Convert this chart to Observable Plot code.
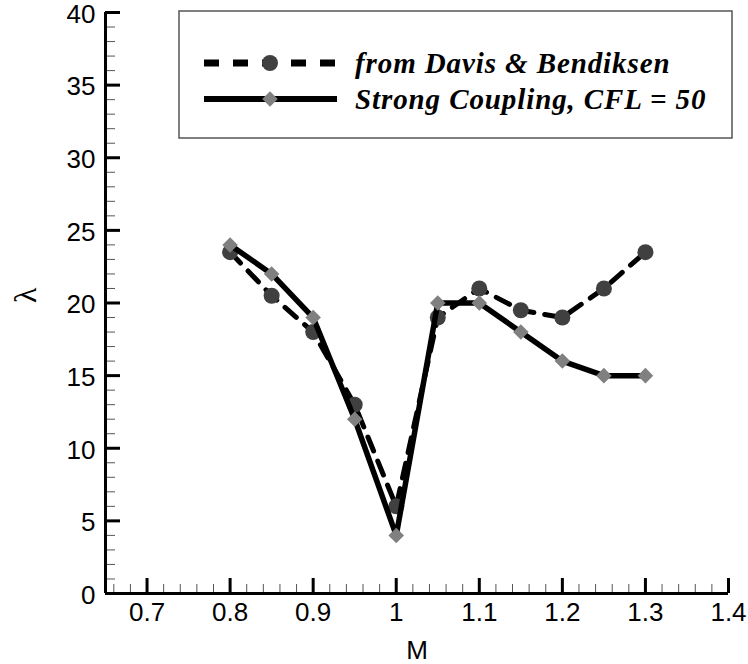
<!DOCTYPE html>
<html>
<head>
<meta charset="utf-8">
<script src="https://cdn.jsdelivr.net/npm/d3@7"></script>
<script src="https://cdn.jsdelivr.net/npm/@observablehq/plot@0.6"></script>
<style>
  html, body { margin: 0; padding: 0; background: #fff; }
  #chart { width: 748px; height: 664px; }
</style>
</head>
<body>
<div id="chart"></div>
<script>
// ---- data ----
const machD = [0.8, 0.85, 0.9, 0.95, 1.0, 1.05, 1.1, 1.15, 1.2, 1.25, 1.3];
const lambdaDavis = [23.5, 20.5, 18, 13, 6, 19, 21, 19.5, 19, 21, 23.5];
const machS = [0.8, 0.85, 0.9, 0.95, 1.0, 1.05, 1.1, 1.15, 1.2, 1.25, 1.3];
const lambdaStrong = [24, 22, 19, 12, 4, 20, 20, 18, 16, 15, 15];
const seriesNames = ["from Davis & Bendiksen", "Strong Coupling, CFL = 50"];
const xTicks = [0.7, 0.8, 0.9, 1, 1.1, 1.2, 1.3, 1.4];
const yTicks = [0, 5, 10, 15, 20, 25, 30, 35, 40];
const xMinor = d3.range(33, 71).map(i => +(i * 0.02).toFixed(2)).filter(v => v >= 0.65 && v <= 1.4);
const yMinor = d3.range(0, 41);
const xLabel = "M";
const yLabel = "λ";

const davis = machD.map((m, i) => ({m, l: lambdaDavis[i]}));
const strong = machS.map((m, i) => ({m, l: lambdaStrong[i]}));

const W = 748, H = 664;
const mL = 105, mR = 20, mT = 12, mB = 71;
const frameH = H - mT - mB, frameW = W - mL - mR;

const chart = Plot.plot({
  width: W,
  height: H,
  marginLeft: mL,
  marginRight: mR,
  marginTop: mT,
  marginBottom: mB,
  style: {background: "#fff", color: "#000", fontFamily: "Liberation Sans, Arial, sans-serif", overflow: "visible"},
  x: {domain: [0.65, 1.4], axis: null},
  y: {domain: [0, 40], axis: null},
  marks: [
    // minor ticks
    Plot.tickX(xMinor, {x: d => d, stroke: "#555", strokeWidth: 1, insetTop: frameH - 9}),
    Plot.tickY(yMinor, {y: d => d, stroke: "#555", strokeWidth: 1, insetRight: frameW - 10}),
    // major ticks
    Plot.tickX(xTicks, {x: d => d, stroke: "#000", strokeWidth: 3, insetTop: frameH - 15}),
    Plot.tickY(yTicks, {y: d => d, stroke: "#000", strokeWidth: 3, insetRight: frameW - 15}),
    // axis lines
    Plot.ruleX([0.65], {stroke: "#000", strokeWidth: 3}),
    Plot.ruleY([0], {stroke: "#000", strokeWidth: 3}),
    // tick labels
    Plot.axisX({ticks: xTicks, tickSize: 0, tickPadding: 9, fontSize: 26, label: null, tickFormat: d => String(d)}),
    Plot.axisY({ticks: yTicks, tickSize: 0, tickPadding: 10, fontSize: 26, label: null, dy: 2, tickFormat: d => String(d)}),
    // axis titles
    Plot.text([xLabel], {frameAnchor: "bottom", lineAnchor: "middle", dy: 57, fontSize: 26, fill: "#000"}),
    Plot.text([yLabel], {frameAnchor: "left", dx: -80, rotate: -90, fontSize: 32, fill: "#000", fontFamily: "Liberation Serif, Times New Roman, serif"}),
    // series
    Plot.line(davis, {x: "m", y: "l", stroke: "#000", strokeWidth: 5, strokeDasharray: "15,11"}),
    Plot.dot(davis, {x: "m", y: "l", r: 8, fill: "#404040", stroke: "none"}),
    Plot.line(strong, {x: "m", y: "l", stroke: "#000", strokeWidth: 5.5}),
    Plot.dot(strong, {x: "m", y: "l", symbol: "diamond2", r: 7, fill: "#808080", stroke: "none"})
  ]
});

// legend
const svg = d3.select(chart);
const lg = svg.append("g").attr("text-anchor", "start");
lg.append("rect").attr("x", 179).attr("y", 11).attr("width", 553).attr("height", 127)
  .attr("fill", "#fff").attr("stroke", "#555").attr("stroke-width", 1.5);
const rows = [63, 99];
// row 1: dashed + circle
lg.append("line").attr("x1", 204).attr("x2", 337).attr("y1", rows[0]).attr("y2", rows[0])
  .attr("stroke", "#000").attr("stroke-width", 7).attr("stroke-dasharray", "15,14");
lg.append("circle").attr("cx", 270).attr("cy", rows[0]).attr("r", 8).attr("fill", "#404040");
// row 2: solid + diamond
lg.append("line").attr("x1", 204).attr("x2", 337).attr("y1", rows[1]).attr("y2", rows[1])
  .attr("stroke", "#000").attr("stroke-width", 6);
lg.append("path").attr("d", d3.symbol(d3.symbolDiamond2, Math.PI * 7 * 7)())
  .attr("transform", `translate(270,${rows[1]})`).attr("fill", "#808080");
seriesNames.forEach((name, i) => {
  lg.append("text").attr("x", 355).attr("y", rows[i]).attr("dy", "0.35em")
    .attr("text-anchor", "start")
    .attr("font-family", "Liberation Serif, Times New Roman, serif")
    .attr("font-style", "italic").attr("font-weight", "bold")
    .attr("letter-spacing", 0.9)
    .attr("font-size", 29).attr("fill", "#000").text(name);
});

document.getElementById("chart").appendChild(chart);
</script>
</body>
</html>
